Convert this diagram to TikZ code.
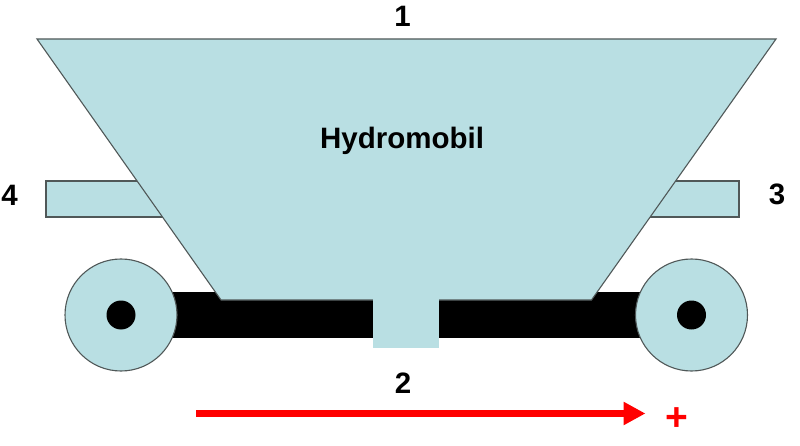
\documentclass[tikz,border=0pt]{standalone}
\usepackage{fontspec}
\setmainfont{Liberation Sans}
\usetikzlibrary{arrows.meta}
\definecolor{paleblue}{HTML}{B9DFE3}
\definecolor{edgegray}{HTML}{505858}
\tikzset{
  part/.style={fill=paleblue,draw=edgegray,line width=1.1pt},
  lbl/.style={font=\fontsize{29.5}{32}\selectfont\bfseries,text=black,inner sep=0pt,anchor=base},
  signlbl/.style={font=\fontsize{39}{40}\selectfont\bfseries,text=red,inner sep=0pt,anchor=base},
  hub/.style={fill=black,draw=none}
}
\begin{document}
\begin{tikzpicture}[x=1pt,y=-1pt]
\useasboundingbox (0,0) rectangle (800,446);
% side flaps
\draw[part] (46,181) rectangle (170,217);
\draw[part] (640,181) rectangle (739,217);
% axle
\fill[black] (160,291.5) rectangle (650,338);
% wheels
\draw[part] (121,315) circle[radius=56];
\fill[hub] (121,315) circle[radius=14.5];
\draw[part] (691.5,315) circle[radius=56];
\fill[hub] (691.5,315) circle[radius=14.5];
% bin
\draw[part] (37,39) -- (776,39) -- (591.5,300) -- (221,300) -- cycle;
% outlet
\fill[paleblue] (373,299) rectangle (438.5,348);
% texts
\node[lbl] (t1) at (402.5,27) {1};
\node[lbl] (name) at (402,149) {Hydromobil};
\node[lbl] (t4) at (9.5,206) {4};
\node[lbl] (t3) at (777,205) {3};
\node[lbl] (t2) at (403,393) {2};
\node[signlbl] (plus) at (676.5,430) {+};
% direction arrow
\coordinate (from) at (196,413.5);
\coordinate (to) at (645.5,413.5);
\draw[red,line width=6.5pt,-{Triangle[length=22pt,width=22pt]}] (from) -- (to);
\end{tikzpicture}
\end{document}
